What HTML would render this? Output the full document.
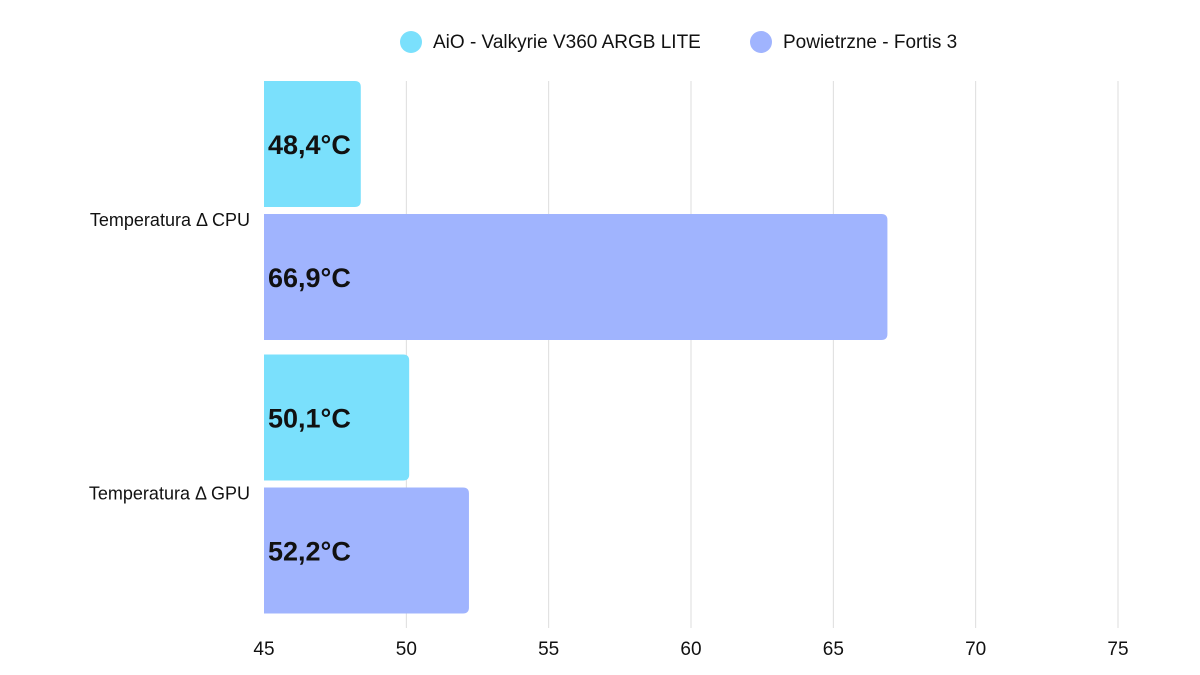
<!DOCTYPE html>
<html><head><meta charset="utf-8"><style>
body{margin:0;background:#fff;}
svg{display:block;font-family:"Liberation Sans",sans-serif;}
</style></head><body>
<svg id="chart" width="1200" height="675"></svg>
<script>
const categories=["Temperatura Δ CPU","Temperatura Δ GPU"];
const seriesNames=["AiO - Valkyrie V360 ARGB LITE","Powietrzne - Fortis 3"];
const aioValues=[48.4,50.1];
const airValues=[66.9,52.2];
const ticks=[45,50,55,60,65,70,75];
const colors=["#7ae0fc","#a0b4fe"];
const NS="http://www.w3.org/2000/svg";
const svgEl=document.getElementById('chart');
const x0=264,x1=1118,vmin=45,vmax=75;
const xs=v=>x0+(v-vmin)/(vmax-vmin)*(x1-x0);
const topY=81,bottomY=628;
function mk(t,a){const e=document.createElementNS(NS,t);for(const k in a)e.setAttribute(k,a[k]);svgEl.appendChild(e);return e;}
ticks.forEach((t,i)=>{
  if(i>0){const l=mk('line',{x1:xs(t),x2:xs(t),y1:topY,y2:bottomY,stroke:'#dddddd','stroke-width':1});
  
  }
  const tx=mk('text',{x:xs(t),y:655,'text-anchor':'middle','font-size':19,fill:'#111'});
  tx.textContent=t;
  
  
});
const band=(bottomY-topY)/categories.length;
const series=[aioValues,airValues];
categories.forEach((c,ci)=>{
  const by=topY+ci*band;
  const lab=mk('text',{x:250,y:by+band/2+8,'text-anchor':'end','font-size':18,fill:'#111'});
  lab.textContent=c;
  
  
  series.forEach((vals,si)=>{
    const y=by+si*133, h=126, w=xs(vals[ci])-x0, r=6;
    const p=mk('path',{d:`M${x0},${y}H${x0+w-r}Q${x0+w},${y} ${x0+w},${y+r}V${y+h-r}Q${x0+w},${y+h} ${x0+w-r},${y+h}H${x0}Z`,fill:colors[si]});
    
    
    const t=mk('text',{x:268,y:y+h/2+10,'font-size':27,'font-weight':'bold',fill:'#111'});
    t.textContent=vals[ci].toFixed(1).replace('.',',')+'°C';
    
    
  });
});
const lx=[411,761];
seriesNames.forEach((n,i)=>{
  const c=mk('circle',{cx:lx[i],cy:42,r:11,fill:colors[i]});
  
  
  const t=mk('text',{x:lx[i]+22,y:48,'font-size':19,fill:'#111'});
  t.textContent=n;
  
  
});
</script>
</body></html>
